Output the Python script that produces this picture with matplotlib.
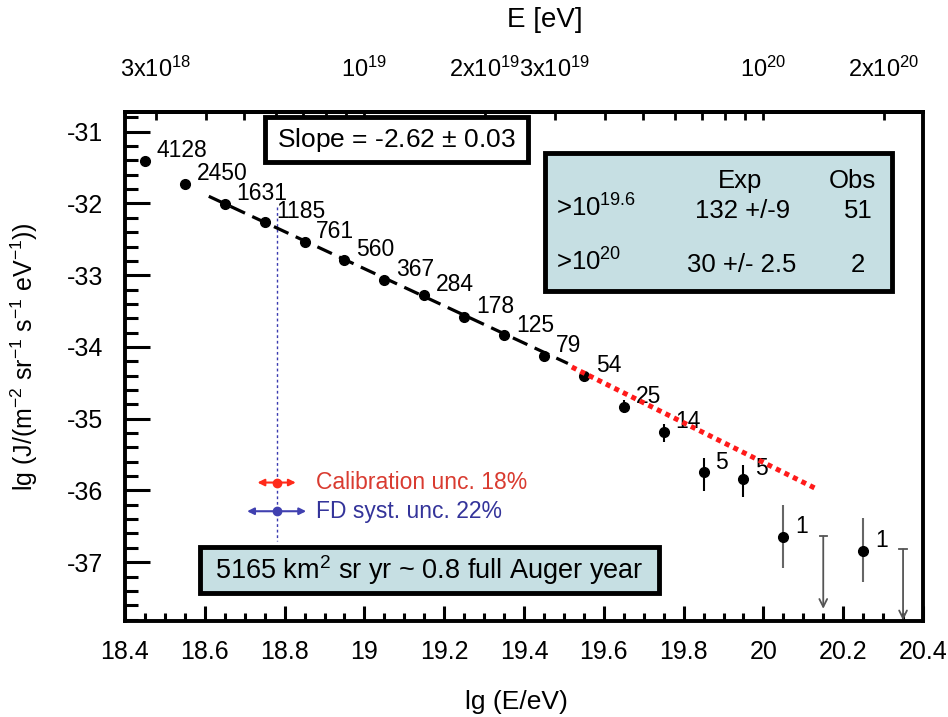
import matplotlib
matplotlib.use('Agg')
import matplotlib.pyplot as plt
from matplotlib.patches import Rectangle
import numpy as np

plt.rcParams['font.family'] = ['Liberation Sans', 'DejaVu Sans']
plt.rcParams['mathtext.default'] = 'regular'
plt.rcParams['axes.unicode_minus'] = False

# spectrum points (lg E, lg J) and event counts
lgE = [18.45, 18.55, 18.65, 18.75, 18.85, 18.95, 19.05, 19.15, 19.25,
       19.35, 19.45, 19.55, 19.65, 19.75, 19.85, 19.95, 20.05, 20.25]
lgJ = [-31.41, -31.73, -32.01, -32.26, -32.54, -32.79, -33.07, -33.28, -33.58,
       -33.84, -34.13, -34.41, -34.84, -35.19, -35.75, -35.84, -36.65, -36.85]
err_lo = [0.01, 0.01, 0.01, 0.02, 0.02, 0.02, 0.03, 0.03, 0.04,
          0.04, 0.05, 0.06, 0.085, 0.14, 0.26, 0.25, 0.43, 0.43]
err_hi = [0.01, 0.01, 0.01, 0.02, 0.02, 0.02, 0.03, 0.03, 0.04,
          0.04, 0.05, 0.06, 0.10, 0.11, 0.20, 0.20, 0.45, 0.46]
counts = ['4128', '2450', '1631', '1185', '761', '560', '367', '284', '178',
          '125', '79', '54', '25', '14', '5', '5', '1', '1']

# upper limits
ul_lgE = [20.15, 20.35]
ul_top = [-36.64, -36.82]
ul_tip = [-37.65, -37.81]

# power-law fit and its extrapolation
fit_lgE = [18.61, 19.51]
fit_lgJ = [-31.90, -34.23]
ext_lgE = [19.52, 20.13]
ext_lgJ = [-34.28, -35.97]

# top axis energies
top_E = [3e18, 1e19, 2e19, 3e19, 1e20, 2e20]
top_labels = [r'3x10$^{18}$', r'10$^{19}$', r'2x10$^{19}$', r'3x10$^{19}$',
              r'10$^{20}$', r'2x10$^{20}$']
top_minor = [k * 10.0 ** n for n in (18, 19, 20) for k in range(1, 10)]

fig = plt.figure(figsize=(9.48, 7.17), dpi=100)
ax = fig.add_axes([125 / 948, 1 - 621 / 717, 798 / 948, 509 / 717])

ax.set_xlim(18.4, 20.4)
ax.set_ylim(-37.82, -30.725)

# fit lines
ax.plot(fit_lgE, fit_lgJ, color='black', lw=2.3, dashes=(5, 2.5), zorder=3)
ax.plot(ext_lgE, ext_lgJ, color='#ff1a1a', lw=3.6, dashes=(1, 0.9), zorder=6)

# data points
n = 16
ax.errorbar(lgE[:n], lgJ[:n], yerr=[err_lo[:n], err_hi[:n]], fmt='o',
            color='black', ms=7, elinewidth=1.5, capsize=0, zorder=4)
ax.errorbar(lgE[n:], lgJ[n:], yerr=[err_lo[n:], err_hi[n:]], fmt='o',
            color='black', ecolor='#666666', ms=7, elinewidth=1.5, capsize=0, zorder=4)

for x, y, c in zip(lgE, lgJ, counts):
    ax.annotate(c, (x, y), xytext=(8.5, 7.5), textcoords='offset points',
                fontsize=16.5, ha='left', va='center', zorder=5)

# upper limits
for x, t, b in zip(ul_lgE, ul_top, ul_tip):
    ax.annotate('', xy=(x, b), xytext=(x, t),
                arrowprops=dict(arrowstyle='->', color='#555555', lw=1.3,
                                shrinkA=0, shrinkB=0, mutation_scale=14))
    ax.plot([x - 0.009, x + 0.009], [t, t], color='#555555', lw=1.3)

# systematic uncertainty indicators
xs = 18.78
ax.plot([xs, xs], [-32.05, -36.70], color='#3a3ab0', lw=1.0, ls=(0, (2, 2)), zorder=2)
ax.annotate('', xy=(xs - 0.048, -35.89), xytext=(xs + 0.048, -35.89),
            arrowprops=dict(arrowstyle='<|-|>', color='#ff2a1a', lw=1.5,
                            shrinkA=0, shrinkB=0, mutation_scale=10))
ax.plot(xs, -35.89, 'o', color='#ff2a1a', ms=6)
ax.annotate('', xy=(xs - 0.074, -36.29), xytext=(xs + 0.074, -36.29),
            arrowprops=dict(arrowstyle='<|-|>', color='#4040b0', lw=1.5,
                            shrinkA=0, shrinkB=0, mutation_scale=10))
ax.plot(xs, -36.29, 'o', color='#4040b0', ms=6)
ax.text(18.879, -35.89, 'Calibration unc. 18%', color='#d93b30',
        fontsize=16.5, va='center', ha='left')
ax.text(18.879, -36.29, 'FD syst. unc. 22%', color='#34349a',
        fontsize=16.5, va='center', ha='left')

# slope box
ax.add_patch(Rectangle((18.751, -31.42), 0.659, 0.625, facecolor='white',
                       edgecolor='black', lw=3.5, zorder=5))
ax.text(19.08, -31.11, r'Slope = -2.62 $\pm$ 0.03', fontsize=19,
        ha='center', va='center', zorder=6)

# exposure box
ax.add_patch(Rectangle((18.588, -37.43), 1.15, 0.64, facecolor='#c6dfe3',
                       edgecolor='black', lw=3.5, zorder=5))
ax.text(19.163, -37.11, r'5165 km$^{2}$ sr yr ~ 0.8 full Auger year',
        fontsize=19.5, ha='center', va='center', zorder=6)

# expected / observed table
ax.add_patch(Rectangle((19.453, -33.22), 0.869, 1.923, facecolor='#c6dfe3',
                       edgecolor='black', lw=3.5, zorder=5))
tab_kw = dict(fontsize=18.5, va='center', zorder=6)
ax.text(19.941, -31.69, 'Exp', ha='center', **tab_kw)
ax.text(20.222, -31.69, 'Obs', ha='center', **tab_kw)
ax.text(19.480, -32.06, r'>10$^{19.6}$', ha='left', **tab_kw)
ax.text(19.949, -32.11, '132 +/-9', ha='center', **tab_kw)
ax.text(20.237, -32.11, '51', ha='center', **tab_kw)
ax.text(19.480, -32.82, r'>10$^{20}$', ha='left', **tab_kw)
ax.text(19.945, -32.86, '30 +/- 2.5', ha='center', **tab_kw)
ax.text(20.237, -32.86, '2', ha='center', **tab_kw)

# axes styling
for s in ax.spines.values():
    s.set_linewidth(2.8)
ax.set_xticks(np.arange(18.4, 20.41, 0.2))
ax.set_xticklabels(['18.4', '18.6', '18.8', '19', '19.2', '19.4', '19.6',
                    '19.8', '20', '20.2', '20.4'])
ax.set_xticks(np.arange(18.4, 20.41, 0.05), minor=True)
ax.set_yticks(np.arange(-37, -30.9, 1))
ax.set_yticklabels(['-37', '-36', '-35', '-34', '-33', '-32', '-31'])
ax.set_yticks(np.arange(-37.8, -30.7, 0.2), minor=True)
ax.tick_params(axis='x', which='major', direction='in', length=11, width=2.2,
               labelsize=18, pad=14, top=False)
ax.tick_params(axis='x', which='minor', direction='in', length=5.5, width=2.2, top=False)
ax.tick_params(axis='y', which='major', direction='in', length=18, width=2.2,
               labelsize=18, pad=16, right=False)
ax.tick_params(axis='y', which='minor', direction='in', length=9.5, width=2.2, right=False)

ax.set_xlabel('lg (E/eV)', fontsize=19)
ax.xaxis.set_label_coords(0.49, -0.136)
ax.set_ylabel(r'lg (J/(m$^{-2}$ sr$^{-1}$ s$^{-1}$ eV$^{-1}$))', fontsize=18)
ax.yaxis.set_label_coords(-0.106, 0.52)

sec = ax.secondary_xaxis('top')
sec.set_xticks([np.log10(e) for e in top_E])
sec.set_xticklabels(top_labels)
sec.set_xticks([np.log10(e) for e in top_minor
                if 18.4 <= np.log10(e) <= 20.4], minor=True)
sec.tick_params(which='major', direction='in', length=6, width=2.0,
                labelsize=17, pad=22)
sec.tick_params(which='minor', direction='in', length=6, width=2.0)
sec.spines['top'].set_linewidth(2.8)
fig.text(545 / 948, 1 - 20 / 717, 'E [eV]', fontsize=20, ha='center', va='center')

fig.savefig('out.png', dpi=100)
